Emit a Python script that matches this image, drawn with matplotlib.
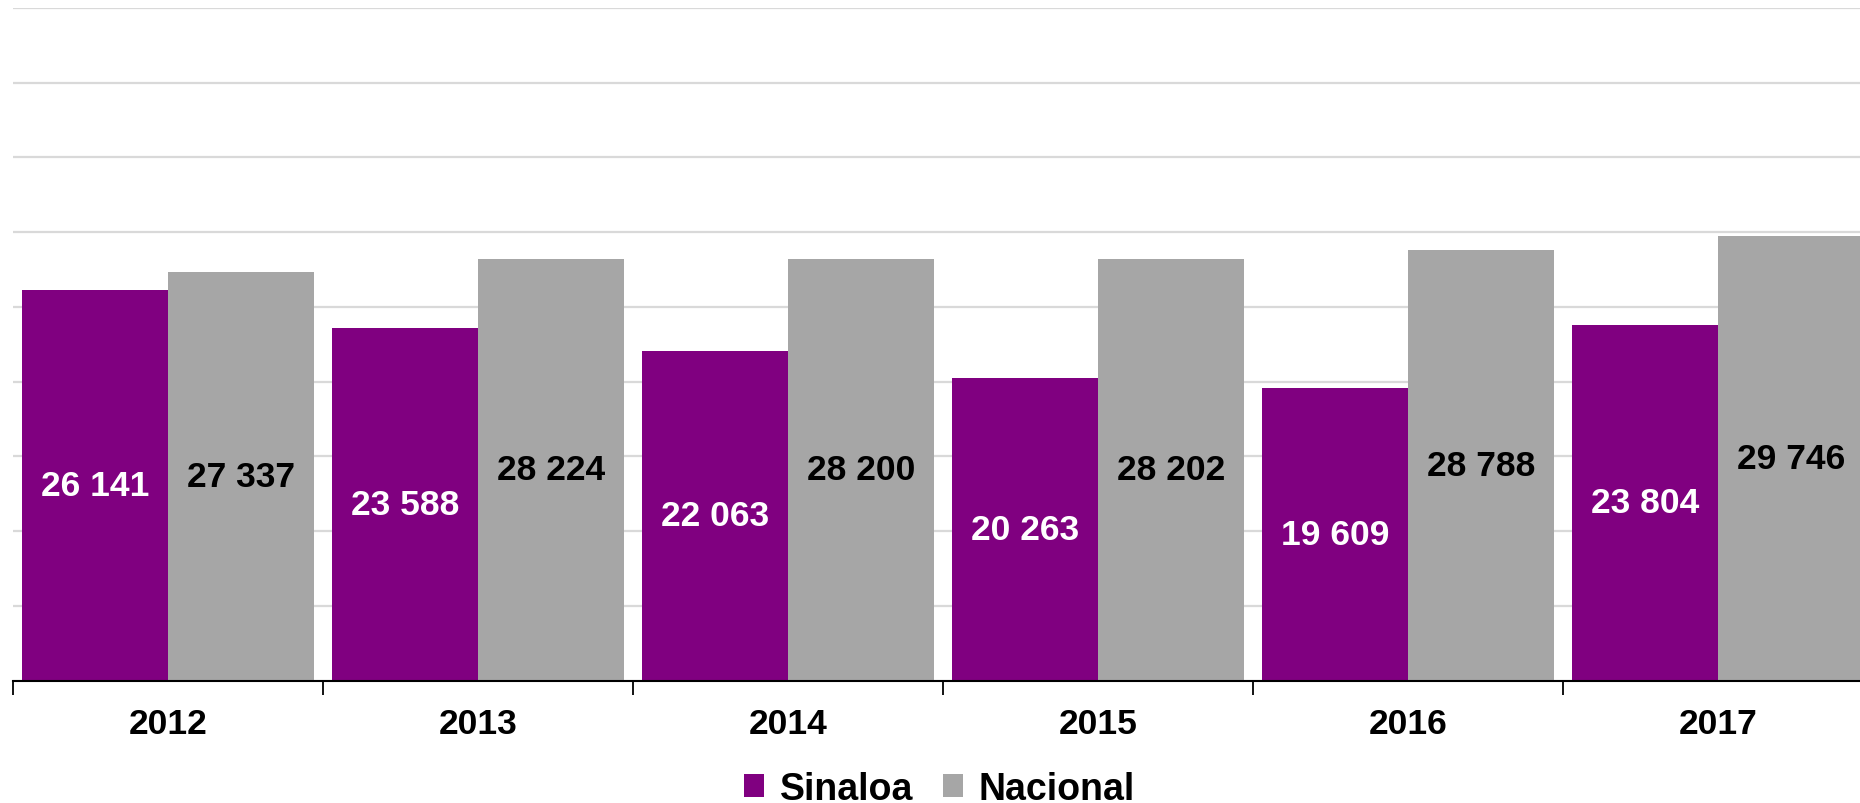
import matplotlib.pyplot as plt
import numpy as np

plt.rcParams['font.family'] = ['Liberation Sans', 'DejaVu Sans']

years = ["2012", "2013", "2014", "2015", "2016", "2017"]
sinaloa = [26141, 23588, 22063, 20263, 19609, 23804]
nacional = [27337, 28224, 28200, 28202, 28788, 29746]


def fmt(v):
    return f"{v:,}".replace(",", " ")


fig = plt.figure(figsize=(18.6, 8.04), dpi=100)
ax = fig.add_axes([0.007, 0.152, 1.0, 0.837])

x = np.arange(len(years))
w = 0.47
b1 = ax.bar(x - w / 2, sinaloa, w, color="#800080", label="Sinaloa", zorder=3)
b2 = ax.bar(x + w / 2, nacional, w, color="#a6a6a6", label="Nacional", zorder=3)

for rect, v in zip(b1, sinaloa):
    ax.text(rect.get_x() + rect.get_width() / 2, v / 2, fmt(v), ha="center", va="center",
            color="white", fontsize=25.5, fontweight="bold", zorder=4)
for rect, v in zip(b2, nacional):
    ax.text(rect.get_x() + rect.get_width() / 2, v / 2, fmt(v), ha="center", va="center",
            color="black", fontsize=25.5, fontweight="bold", zorder=4)

ax.set_xlim(-0.5, len(years) - 0.5)
ax.set_ylim(0, 45000)
ax.set_yticks(np.arange(0, 45001, 5000))
ax.yaxis.grid(True, color="#d9d9d9", linewidth=1.6, zorder=0)
ax.tick_params(axis="y", left=False, labelleft=False)

ax.set_xticks(np.arange(-0.5, len(years) + 0.5, 1.0))
ax.set_xticklabels([])
ax.tick_params(axis="x", which="major", direction="out", length=10, width=1.3, color="black")
ax.set_xticks(x, minor=True)
ax.set_xticklabels(years, minor=True, fontsize=25.5, fontweight="bold")
ax.tick_params(axis="x", which="minor", length=0, pad=19)

for s in ["top", "right", "left"]:
    ax.spines[s].set_visible(False)
ax.spines["bottom"].set_linewidth(1.5)
ax.spines["bottom"].set_zorder(5)

fig.legend(handles=[b1, b2], loc="center", bbox_to_anchor=(0.505, 0.018), ncol=2,
           frameon=False, prop={"size": 27, "weight": "bold"},
           handlelength=0.55, handleheight=0.55, handletextpad=0.4, columnspacing=0.8)

fig.savefig("out.png", dpi=100)
